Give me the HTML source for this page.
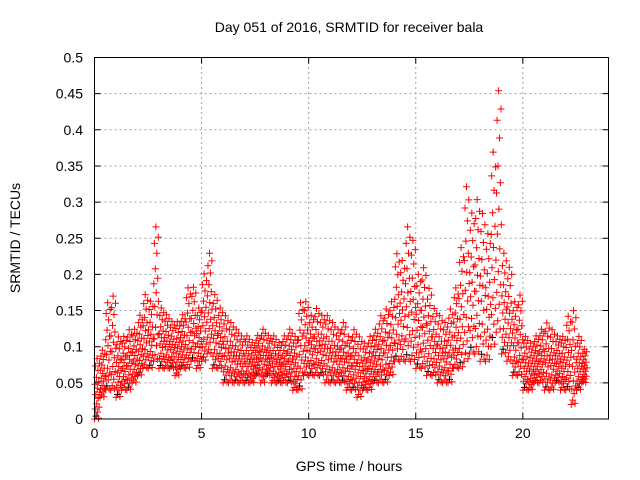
<!DOCTYPE html>
<html><head><meta charset="utf-8"><style>
html,body{margin:0;padding:0;background:#fff;}
svg{display:block;font-family:"Liberation Sans",sans-serif;}
</style></head><body>
<svg id="chart" width="640" height="480">
<g id="grid"></g>
<g id="ticks"></g>
<g id="pts"></g>
<rect x="94.5" y="57.5" width="514" height="361.5" fill="none" stroke="#000" stroke-width="1"/>
<text x="349" y="32" text-anchor="middle" font-size="14">Day 051 of 2016, SRMTID for receiver bala</text>
<text x="349" y="471" text-anchor="middle" font-size="14">GPS time / hours</text>
<text transform="translate(20,238) rotate(-90)" text-anchor="middle" font-size="14">SRMTID / TECUs</text>
</svg>
<script>
const xTicks=[0,5,10,15,20];
const yTicks=[0,0.05,0.1,0.15,0.2,0.25,0.3,0.35,0.4,0.45,0.5];
const yTickLabels=["0","0.05","0.1","0.15","0.2","0.25","0.3","0.35","0.4","0.45","0.5"];
const binStart=0, binWidth=0.25;
const lowValues=[0.00,0.03,0.04,0.04,0.03,0.04,0.04,0.05,0.06,0.07,0.07,0.08,0.07,0.07,0.07,0.06,0.07,0.07,0.08,0.07,0.08,0.09,0.07,0.07,0.05,0.05,0.05,0.05,0.05,0.05,0.06,0.05,0.06,0.05,0.05,0.05,0.05,0.04,0.04,0.06,0.06,0.06,0.06,0.05,0.05,0.05,0.05,0.04,0.04,0.03,0.04,0.04,0.05,0.05,0.05,0.06,0.08,0.08,0.08,0.08,0.07,0.07,0.06,0.06,0.05,0.05,0.05,0.07,0.07,0.08,0.09,0.09,0.08,0.08,0.10,0.12,0.09,0.08,0.06,0.06,0.04,0.04,0.05,0.05,0.04,0.04,0.05,0.04,0.04,0.02,0.04,0.05];
const highValues=[0.09,0.10,0.17,0.18,0.12,0.12,0.13,0.13,0.15,0.18,0.17,0.28,0.16,0.15,0.14,0.14,0.15,0.19,0.19,0.16,0.21,0.24,0.18,0.16,0.15,0.14,0.13,0.12,0.12,0.11,0.12,0.13,0.12,0.12,0.11,0.12,0.13,0.12,0.17,0.17,0.15,0.16,0.15,0.15,0.14,0.13,0.14,0.12,0.13,0.12,0.11,0.12,0.13,0.15,0.16,0.17,0.24,0.23,0.28,0.26,0.21,0.22,0.19,0.16,0.15,0.14,0.16,0.19,0.25,0.34,0.30,0.32,0.30,0.27,0.39,0.48,0.24,0.22,0.17,0.18,0.12,0.11,0.12,0.13,0.14,0.13,0.12,0.12,0.15,0.16,0.12,0.10];
const X0=94.5,X1=608.5,Y0=419,Y1=57.5,XMAX=24,YMAX=0.5;
const xs=v=>X0+(X1-X0)*v/XMAX;
const ys=v=>Y0-(Y0-Y1)*v/YMAX;
const NS="http://www.w3.org/2000/svg";
const grid=document.getElementById('grid'),ticks=document.getElementById('ticks'),pts=document.getElementById('pts');
function mk(tag,attrs,parent){const e=document.createElementNS(NS,tag);for(const k in attrs)e.setAttribute(k,attrs[k]);parent.appendChild(e);return e;}
xTicks.forEach(t=>{const x=xs(t);
 if(t>0){const g=mk('line',{x1:x,x2:x,y1:Y0,y2:Y1,stroke:'#a0a0a0','stroke-dasharray':'2,3'},grid);
 
 }
 const tk=mk('path',{d:`M${x},${Y0}v-6M${x},${Y1}v6`,stroke:'#000'},ticks);
 
 
 const l=mk('text',{x:x,y:Y0+19,'text-anchor':'middle','font-size':'14'},ticks);l.textContent=t;
 
 });
yTicks.forEach((t,i)=>{const y=ys(t);
 if(t>0&&t<YMAX){const g=mk('line',{x1:X0,x2:X1,y1:y,y2:y,stroke:'#a0a0a0','stroke-dasharray':'2,3'},grid);
 
 }
 const tk=mk('path',{d:`M${X0},${y}h6M${X1},${y}h-6`,stroke:'#000'},ticks);
 
 
 const l=mk('text',{x:83,y:y+5,'text-anchor':'end','font-size':'14'},ticks);l.textContent=yTickLabels[i];
 
 });
let dRed='',dBlack='';const N=18;
lowValues.forEach((lo,b)=>{const hi=highValues[b];
 for(let k=0;k<N;k++){const f=(k*0.618034)%1;const tx=binStart+binWidth*(b+(k+0.5)/N);
  const v=lo+(hi-lo)*Math.pow(f,1.3);const x=xs(tx),y=ys(v);
  const seg=`M${(x-3.5).toFixed(1)},${y.toFixed(1)}h7M${x.toFixed(1)},${(y-3.5).toFixed(1)}v7`;
  if(k%17==5&&b%2==0)dBlack+=seg;else dRed+=seg;}});
const pb=mk('path',{d:dBlack,stroke:'#000',fill:'none','stroke-width':'1'},pts);


const pr=mk('path',{d:dRed,stroke:'#ff0000',fill:'none','stroke-width':'1'},pts);


</script>
</body></html>
